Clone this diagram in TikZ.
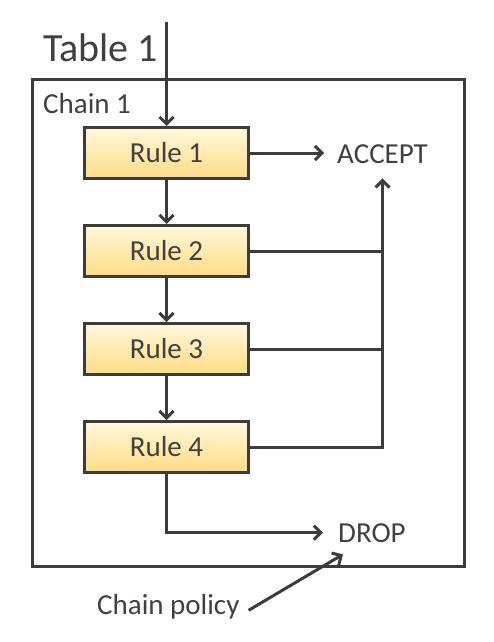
\documentclass[tikz,border=0pt]{standalone}
\usepackage{fontspec}
\setmainfont{Carlito}
\usetikzlibrary{arrows.meta}
\definecolor{linegray}{HTML}{3C3C3C}
\definecolor{textgray}{HTML}{404040}
\definecolor{boxtop}{HTML}{FFF8DC}
\definecolor{boxbottom}{HTML}{FEDC82}
\tikzset{
  rulebox/.style={draw=linegray, line width=3pt, top color=boxtop, bottom color=boxbottom,
    minimum width=164pt, minimum height=51pt, inner sep=0pt},
  label/.style={inner sep=0pt, text=textgray, font=\fontsize{29pt}{34pt}\selectfont},
  flow/.style={draw=linegray, line width=3pt},
  >={Straight Barb[length=7pt,width=14pt]}
}
\begin{document}
\begin{tikzpicture}[x=1pt,y=-1pt]
  \useasboundingbox (0,0) rectangle (493,642);
  \node[draw=linegray, line width=3pt, minimum width=432pt, minimum height=487pt] at (248.5,323) (table) {};
  \node[label, anchor=base west, font=\fontsize{40pt}{46pt}\selectfont] at (43,61) (tablename) {Table 1};
  \node[label, anchor=base west] at (43,113) (chain) {Chain 1};
  \node[rulebox, label] at (166.5,153) (rule1) {Rule 1};
  \node[rulebox, label] at (166.5,251) (rule2) {Rule 2};
  \node[rulebox, label] at (166.5,349) (rule3) {Rule 3};
  \node[rulebox, label] at (166.5,447) (rule4) {Rule 4};
  \node[label, anchor=base west] at (337,163) (accept) {ACCEPT};
  \node[label, anchor=base west] at (338,542) (drop) {DROP};
  \node[label, anchor=base west] at (97,614) (policy) {Chain policy};
  \coordinate (in) at (166.5,22);
  % rules in order
  \draw[flow, ->] (in) -- (rule1);
  \draw[flow, ->] (rule1) -- (rule2);
  \draw[flow, ->] (rule2) -- (rule3);
  \draw[flow, ->] (rule3) -- (rule4);
  % matches
  \draw[flow, ->, shorten >=13pt] (rule1.east) -- (rule1.east -| accept.west);
  \draw[flow] (rule2.east) -- (rule2.east -| accept.south);
  \draw[flow] (rule3.east) -- (rule3.east -| accept.south);
  \draw[flow, ->, shorten >=15pt] (rule4.east) -| (accept.south);
  % no match
  \draw[flow, ->, shorten >=15pt] (rule4.south) |- (drop.west);
  \draw[flow, ->] ([shift={(9,4)}]policy.east) -- ([shift={(5,12)}]drop.south west);
\end{tikzpicture}
\end{document}
